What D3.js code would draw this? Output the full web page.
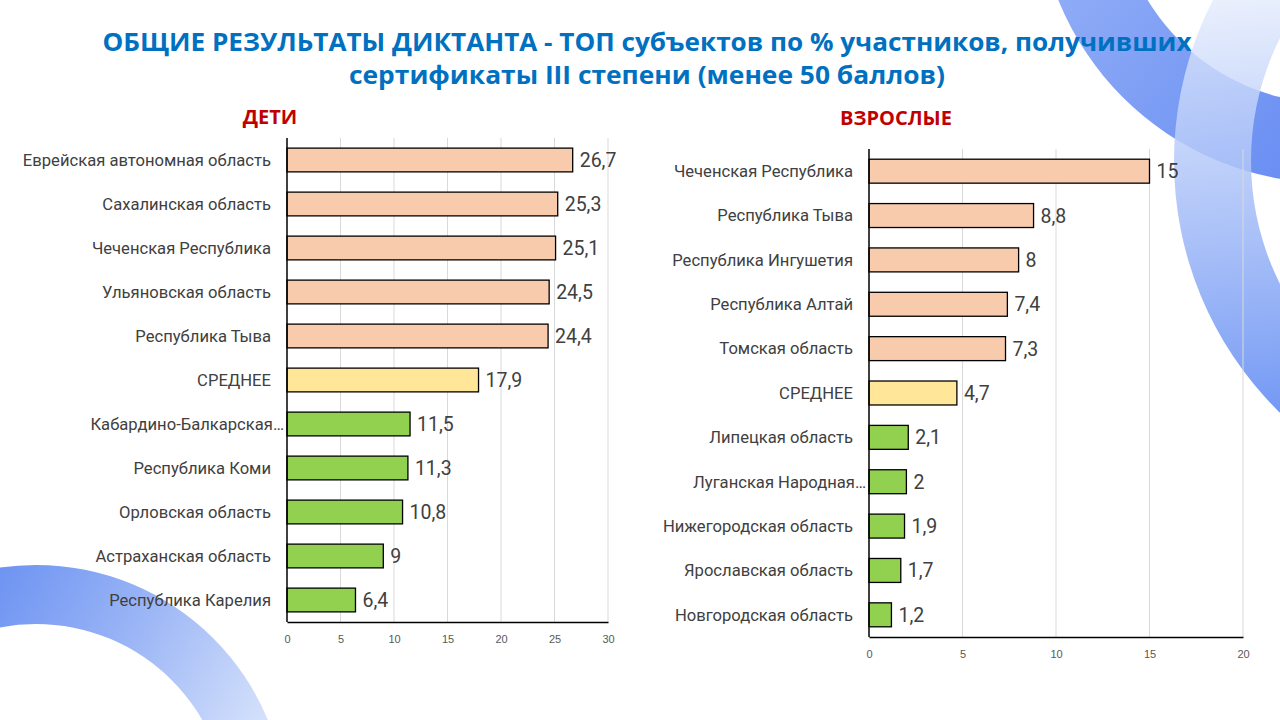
<!DOCTYPE html>
<html lang="ru">
<head>
  <meta charset="UTF-8">
  <title>Общие результаты диктанта</title>
  <script src="https://d3js.org/d3.v7.min.js"></script>
  <style>
    html,body{margin:0;padding:0;background:#fff}
    svg{display:block;font-family:Roboto,"Open Sans",Arial,sans-serif}
    .title{fill:#0070c0;font-weight:bold;font-family:"Open Sans",Arial,sans-serif}
    .sub{fill:#c00000;font-weight:bold;font-size:20px;font-family:"Open Sans",Arial,sans-serif}
    .cat{fill:#404040;font-size:16.6px}
    .val{fill:#404040;font-size:19.5px}
    .tick text{fill:#595959;font-size:11px}
    .grid line{stroke:#d9d9d9;stroke-width:1}
    .bar{stroke:#000;stroke-width:1.3}
  </style>
</head>
<body>
<script>
// --- данные ---
const kidsRegions=["Еврейская автономная область","Сахалинская область","Чеченская Республика",
  "Ульяновская область","Республика Тыва","СРЕДНЕЕ","Кабардино-Балкарская…",
  "Республика Коми","Орловская область","Астраханская область","Республика Карелия"];
const kidsValues=[26.7,25.3,25.1,24.5,24.4,17.9,11.5,11.3,10.8,9,6.4];
const kidsTicks=[0,5,10,15,20,25,30];

const adultRegions=["Чеченская Республика","Республика Тыва","Республика Ингушетия",
  "Республика Алтай","Томская область","СРЕДНЕЕ","Липецкая область",
  "Луганская Народная…","Нижегородская область","Ярославская область","Новгородская область"];
const adultValues=[15,8.8,8,7.4,7.3,4.7,2.1,2,1.9,1.7,1.2];
const adultTicks=[0,5,10,15,20];

const titleLines=["ОБЩИЕ РЕЗУЛЬТАТЫ ДИКТАНТА - ТОП субъектов по % участников, получивших",
  "сертификаты III степени (менее 50 баллов)"];

const W=1280,H=720;
const svg=d3.select("body").append("svg").attr("width",W).attr("height",H);
const defs=svg.append("defs");

/* --- декоративные кольца (градиент в координатах слайда) --- */
function ring(id,cx,cy,r0,r1,gx,stops){
  const g=defs.append("linearGradient").attr("id",id)
    .attr("gradientUnits","userSpaceOnUse")
    .attr("x1",gx[0]-cx).attr("y1",gx[1]-cy).attr("x2",gx[2]-cx).attr("y2",gx[3]-cy);
  stops.forEach(s=>g.append("stop").attr("offset",s[0]).attr("stop-color",s[1]).attr("stop-opacity",s[2]));
  svg.append("path")
    .attr("transform",`translate(${cx},${cy})`)
    .attr("d",d3.arc().innerRadius(r0).outerRadius(r1).startAngle(0).endAngle(2*Math.PI)())
    .attr("fill",`url(#${id})`);
}
ring("g1",1330,-110,213,293,[1060,0,1280,180],[[0,"#8eabf6",1],[1,"#6a8ff3",1]]);
ring("g2",1526,161,275,352,[1220,0,1260,420],[[0,"#e3ebfc",0.8],[0.45,"#aac1f8",0.85],[1,"#7197f4",1]]);
ring("g3",36,816,192,251,[0,570,260,720],[[0,"#6e94f2",1],[0.5,"#9cb6f6",1],[1,"#d3e0fb",1]]);

/* --- заголовок --- */
svg.append("text").attr("class","title").attr("x",647).attr("y",51)
  .attr("text-anchor","middle").attr("font-size",25)
  .attr("textLength",1089).attr("lengthAdjust","spacingAndGlyphs").text(titleLines[0]);
svg.append("text").attr("class","title").attr("x",647).attr("y",84)
  .attr("text-anchor","middle").attr("font-size",25)
  .attr("textLength",596).attr("lengthAdjust","spacingAndGlyphs").text(titleLines[1]);

/* --- одна диаграмма --- */
function drawChart(cfg){
  const {regions,values,ticks,x0,x1,y0,y1,head,headX,headY}=cfg;
  svg.append("text").attr("class","sub").attr("x",headX).attr("y",headY)
    .attr("text-anchor","middle").text(head);

  const x=d3.scaleLinear().domain([0,d3.max(ticks)]).range([x0,x1]);
  const y=d3.scaleBand().domain(regions).range([y0,y1]).paddingInner(0.46).paddingOuter(0.23);
  const avgIdx=regions.indexOf("СРЕДНЕЕ");
  const color=i=>i<avgIdx?"#f8cbad":i===avgIdx?"#ffe699":"#92d050";

  const g=svg.append("g");
  g.append("g").attr("class","grid").selectAll("line").data(ticks.slice(1)).join("line")
    .attr("x1",d=>x(d)).attr("x2",d=>x(d)).attr("y1",y0).attr("y2",y1);

  const ax=g.append("g").attr("transform",`translate(0,${y1})`)
    .call(d3.axisBottom(x).tickValues(ticks).tickSize(0).tickPadding(13));
  ax.select(".domain").attr("stroke","#000").attr("stroke-width",1.5);

  g.selectAll(".bar").data(values).join("rect").attr("class","bar")
    .attr("x",x(0)).attr("y",(d,i)=>y(regions[i]))
    .attr("width",d=>x(d)-x(0)).attr("height",y.bandwidth())
    .attr("fill",(d,i)=>color(i));

  g.append("line").attr("x1",x0).attr("x2",x0).attr("y1",y0).attr("y2",y1)
    .attr("stroke","#000").attr("stroke-width",1.5);

  g.selectAll(".val").data(values).join("text").attr("class","val")
    .attr("x",d=>x(d)+7).attr("y",(d,i)=>y(regions[i])+y.bandwidth()/2)
    .attr("dy","0.36em").text(d=>String(d).replace(".",","));

  g.selectAll(".cat").data(regions).join("text").attr("class","cat")
    .attr("x",d=>d.endsWith("…")?x0-3:x0-16)
    .attr("y",d=>y(d)+y.bandwidth()/2).attr("dy","0.35em")
    .attr("text-anchor","end").text(d=>d);
}

drawChart({regions:kidsRegions,values:kidsValues,ticks:kidsTicks,
  x0:287,x1:608,y0:138,y1:622,head:"ДЕТИ",headX:270,headY:124});
drawChart({regions:adultRegions,values:adultValues,ticks:adultTicks,
  x0:869,x1:1243,y0:149,y1:637,head:"ВЗРОСЛЫЕ",headX:896,headY:125});
</script>
</body>
</html>
